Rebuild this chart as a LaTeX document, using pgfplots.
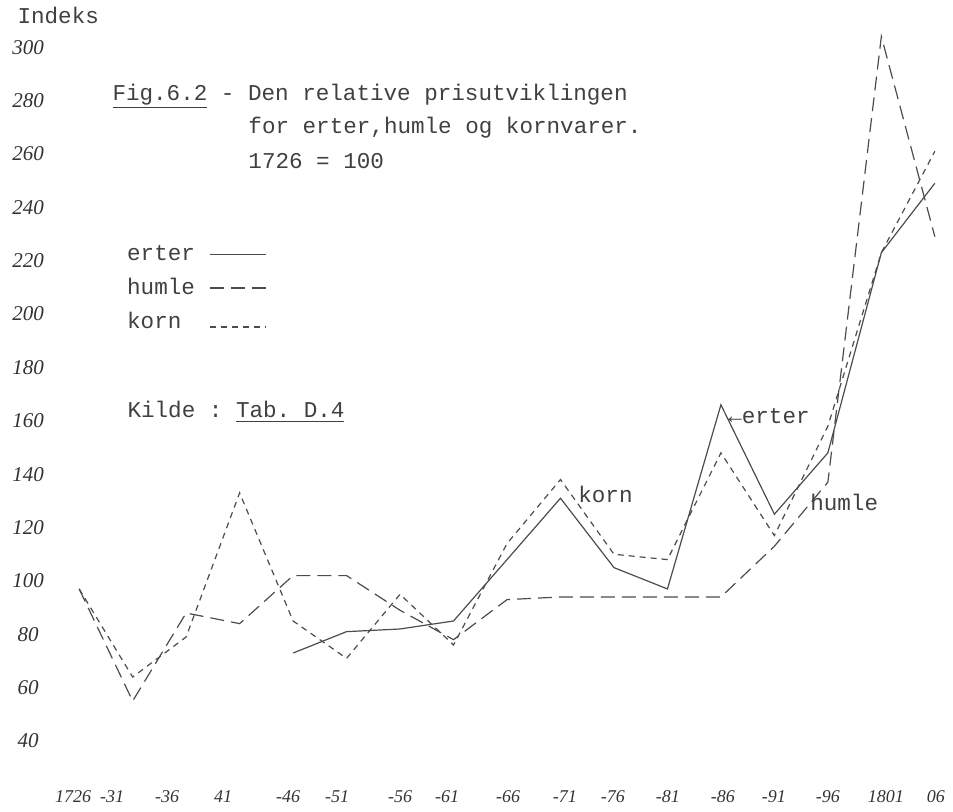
\documentclass[border=0pt]{standalone}
\usepackage{pgfplots}
\pgfplotsset{compat=1.18}
\usepackage{fontspec}
\setmainfont{Liberation Serif}
\setmonofont{Liberation Mono}
\newcommand{\tw}{\fontsize{11.3}{13}\selectfont\ttfamily}
\begin{document}
\begin{tikzpicture}
\begin{axis}[
  scale only axis,
  width=476.5pt, height=405.5pt,
  xmin=-1.477, xmax=16.336,
  ymin=13.86, ymax=317.6,
  axis line style={draw=none},
  major tick length=0pt,
  clip=false,
  xtick={-0.112,0.617,1.645,2.692,3.907,4.822,6.0,6.879,8.019,9.084,9.981,11.009,12.037,12.991,14.0,15.084,16.019},
  xticklabels={1726,-31,-36,41,-46,-51,-56,-61,-66,-71,-76,-81,-86,-91,-96,1801,06},
  xticklabel style={anchor=center, yshift=7pt, font=\fontsize{9}{10}\selectfont\itshape, text=black!80},
  ytick={40,60,...,300},
  yticklabels={40,60,80,100,120,140,160,180,200,220,240,260,280,300},
  yticklabel style={anchor=center, xshift=14pt, font=\fontsize{10.5}{11}\selectfont\itshape, text=black!80},
  legend plot pos=right,
  legend cell align=left,
  legend style={draw=none, fill=none, at={(rel axis cs:0.1333,0.6991)}, anchor=north west,
    inner sep=0pt, outer sep=0pt, row sep=7pt, column sep=7pt, font=\tw, text=black!75,
    nodes={inner sep=0pt, text height=8pt, text depth=2pt}},
  legend image code/.code={\draw[#1] (0pt,0pt) -- (28pt,0pt);},
  every axis plot/.append style={black!70, line width=0.6pt},
]
% erter
\addplot[solid] coordinates {
  (4,73) (5,81) (6,82) (7,85) (8,108) (9,131) (10,105) (11,97)
  (12,166) (13,125) (14,148) (15,223) (16,249)};
\addlegendentry{erter}
% humle
\addplot[dash pattern=on 7pt off 3.5pt] coordinates {
  (0,97) (1,55) (2,88) (3,84) (4,102) (5,102) (6,89) (7,78)
  (8,93) (9,94) (10,94) (11,94) (12,94) (13,113) (14,137) (15,304) (16,229)};
\addlegendentry{humle}
% korn
\addplot[dash pattern=on 3pt off 2.5pt, legend image post style={yshift=-2.5pt}] coordinates {
  (0,97) (1,64) (2,79) (3,133) (4,85) (5,71) (6,95) (7,76)
  (8,114) (9,138) (10,110) (11,108) (12,148) (13,117) (14,158) (15,223) (16,261)};
\addlegendentry{korn}

\begin{scope}[every node/.style={anchor=base west, inner sep=0pt, font=\tw, text=black!75}]
\node at (rel axis cs:0.0178,0.9716) {Indeks};
\node at (rel axis cs:0.1175,0.8767) {\underline{Fig.6.2} - Den relative prisutviklingen};
\node at (rel axis cs:0.2602,0.8360) {for erter,humle og kornvarer.};
\node at (rel axis cs:0.2602,0.7928) {1726 = 100};
\node at (rel axis cs:0.1333,0.4846) {Kilde : \underline{Tab.\ D.4}};
\node at (rel axis cs:0.7639,0.4784) {←erter};
\node at (rel axis cs:0.6065,0.3798) {korn};
\node at (rel axis cs:0.8500,0.3699) {humle};
\end{scope}
\end{axis}
\end{tikzpicture}
\end{document}
